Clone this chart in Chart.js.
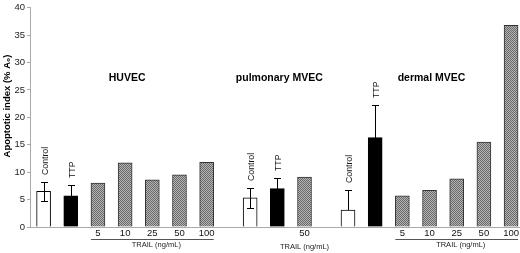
<!DOCTYPE html>
<html>
<head>
  <title>Apoptotic index</title>
  <script src="https://cdn.jsdelivr.net/npm/chart.js"></script>
  <style>
    html, body { margin: 0; padding: 0; background: #fff; }
    #wrap { width: 520px; height: 253px; }
  </style>
</head>
<body>
  <div id="wrap"><canvas id="apopChart"></canvas></div>

  <script>
    // data
    const groups = ['HUVEC', 'pulmonary MVEC', 'dermal MVEC'];
    const categories = [
      ['Control', 'TTP', '5', '10', '25', '50', '100'],
      ['Control', 'TTP', '50'],
      ['Control', 'TTP', '5', '10', '25', '50', '100']
    ];
    const values = [
      [6.5, 5.7, 8.0, 11.7, 8.6, 9.5, 11.8],
      [5.3, 7.0, 9.1],
      [3.1, 16.3, 5.7, 6.7, 8.8, 15.5, 36.8]
    ];
    const errors = [
      [1.7, 1.9, null, null, null, null, null],
      [1.8, 1.9, null],
      [3.7, 5.9, null, null, null, null, null]
    ];
    const yTicks = [0, 5, 10, 15, 20, 25, 30, 35, 40];
    const yTitle = 'Apoptotic index (% A\u2080)';
    const trailTitle = 'TRAIL (ng/mL)';

    const GROUP_GAP = 0.6;   // extra space between cell types, in bar slots
    const FONT = '"Liberation Sans", Arial, sans-serif';

    // flatten into points on a linear x scale
    const bars = [];
    let slot = 0;
    categories.forEach((cats, g) => {
      cats.forEach((c, i) => {
        bars.push({ x: slot + g * GROUP_GAP, y: values[g][i], cat: c, err: errors[g][i], group: g });
        slot++;
      });
    });
    const isTrail = c => c !== 'Control' && c !== 'TTP';

    // dithered grey like the printed hatch
    const pc = document.createElement('canvas');
    pc.width = 2; pc.height = 2;
    const pctx = pc.getContext('2d');
    pctx.fillStyle = '#b4b4b4'; pctx.fillRect(0, 0, 2, 2);
    pctx.fillStyle = '#6a6a6a'; pctx.fillRect(0, 0, 1, 1); pctx.fillRect(1, 1, 1, 1);
    const hatch = pctx.createPattern(pc, 'repeat');

    const fills = bars.map(b => b.cat === 'Control' ? '#ffffff' : b.cat === 'TTP' ? '#000000' : hatch);
    const borders = bars.map(b => isTrail(b.cat) ? '#333333' : '#000000');

    const decor = {
      id: 'decor',
      afterDatasetsDraw(chart) {
        const ctx = chart.ctx;
        const xs = chart.scales.x, ys = chart.scales.y;
        ctx.save();

        // error bars + rotated Control/TTP labels
        bars.forEach(b => {
          if (b.err == null) return;
          const px = Math.round(xs.getPixelForValue(b.x));
          const top = Math.round(ys.getPixelForValue(b.y + b.err));
          const cap = 3;
          const hasLow = b.y - b.err >= 0;
          const low = Math.round(ys.getPixelForValue(hasLow ? b.y - b.err : b.y));
          ctx.strokeStyle = '#000'; ctx.lineWidth = 1;
          ctx.beginPath();
          ctx.moveTo(px + 0.5, low); ctx.lineTo(px + 0.5, top);
          ctx.moveTo(px - cap, top + 0.5); ctx.lineTo(px + cap + 1, top + 0.5);
          if (hasLow) { ctx.moveTo(px - cap, low + 0.5); ctx.lineTo(px + cap + 1, low + 0.5); }
          ctx.stroke();

          ctx.save();
          ctx.translate(px + 1, top - 7);
          ctx.rotate(-Math.PI / 2);
          ctx.scale(0.92, 1);
          ctx.fillStyle = '#111';
          ctx.font = '9.5px ' + FONT;
          ctx.textAlign = 'left'; ctx.textBaseline = 'middle';
          ctx.fillText(b.cat, 0, 0);
          ctx.restore();
        });

        // group titles, TRAIL underline and caption
        groups.forEach((name, g) => {
          const gb = bars.filter(b => b.group === g);
          const tb = gb.filter(b => isTrail(b.cat));
          const first = xs.getPixelForValue(gb[0].x), last = xs.getPixelForValue(gb[gb.length - 1].x);
          ctx.fillStyle = '#000';
          ctx.font = 'bold 10.5px ' + FONT;
          ctx.textAlign = 'center'; ctx.textBaseline = 'middle';
          ctx.fillText(name, (first + last) / 2 + 2, ys.getPixelForValue(27.2));

          const t0 = xs.getPixelForValue(tb[0].x), t1 = xs.getPixelForValue(tb[tb.length - 1].x);
          if (tb.length > 1) {
            ctx.strokeStyle = '#555'; ctx.lineWidth = 1;
            ctx.beginPath();
            ctx.moveTo(t0 - 7, 239.5); ctx.lineTo(t1 + 7, 239.5);
            ctx.stroke();
          }
          ctx.fillStyle = '#222';
          ctx.font = '7.5px ' + FONT;
          ctx.fillText(trailTitle, (t0 + t1) / 2 + (tb.length > 1 ? 4 : 0), tb.length > 1 ? 245 : 247);
        });

        // y title
        ctx.save();
        ctx.translate(7, 106);
        ctx.rotate(-Math.PI / 2);
        ctx.fillStyle = '#000';
        ctx.font = 'bold 9.5px ' + FONT;
        ctx.textAlign = 'center'; ctx.textBaseline = 'middle';
        ctx.fillText(yTitle, 0, 0);
        ctx.restore();

        ctx.restore();
      }
    };

    const trailBars = bars.filter(b => isTrail(b.cat));

    new Chart(document.getElementById('apopChart'), {
      type: 'bar',
      data: {
        datasets: [{
          data: bars.map(b => ({ x: b.x, y: b.y })),
          backgroundColor: fills,
          borderColor: borders,
          borderWidth: 1,
          barThickness: 14
        }]
      },
      options: {
        responsive: true,
        maintainAspectRatio: false,
        animation: false,
        layout: { padding: { top: 5, right: 0, left: 0, bottom: 0 } },
        plugins: { legend: { display: false }, tooltip: { enabled: false } },
        scales: {
          x: {
            type: 'linear',
            offset: false,
            min: -0.5,
            max: bars[bars.length - 1].x + 0.3,
            grid: { display: false, drawTicks: false },
            border: { display: true, color: '#aaa' },
            afterBuildTicks: s => { s.ticks = trailBars.map(b => ({ value: b.x })); },
            afterFit: s => { s.height = 26; },
            ticks: {
              autoSkip: false, maxRotation: 0, padding: 1,
              color: '#111', font: { family: FONT, size: 9.5 },
              callback: v => { const b = trailBars.find(t => Math.abs(t.x - v) < 1e-6); return b ? b.cat : ''; }
            }
          },
          y: {
            min: 0, max: 40,
            afterBuildTicks: s => { s.ticks = yTicks.map(v => ({ value: v })); },
            afterFit: s => { s.width = 30; },
            grid: { drawOnChartArea: false, tickLength: 3, color: '#aaa' },
            border: { display: true, color: '#aaa' },
            ticks: { padding: 2, color: '#222', font: { family: FONT, size: 9.5 } }
          }
        }
      },
      plugins: [decor]
    });
  </script>
</body>
</html>
